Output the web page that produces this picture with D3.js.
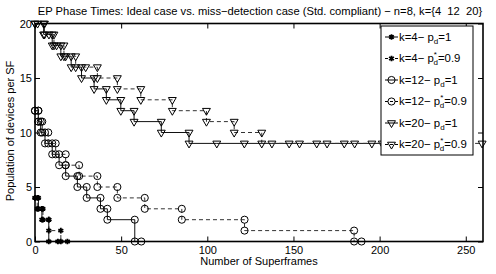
<!DOCTYPE html>
<html>
<head>
<meta charset="utf-8">
<script src="https://cdn.jsdelivr.net/npm/d3@7"></script>
<style>
body { margin: 0; background: #fff; }
text { font-family: "Liberation Sans", Arial, sans-serif; fill: #000; }
</style>
</head>
<body>
<div id="chart"></div>
<script>
(function(){
    // tick values
    var xTicks = [0, 50, 100, 150, 200, 250];
    var yTicks = [0, 5, 10, 15, 20];

    // [superframe, population]
    var k4Ideal = [[0,4],[2,4],[2,3],[4,3],[4,2],[8,2],[8,0],[13.3,0]];
    var k4Miss = [[0,4],[1.3,4],[1.3,3],[4.6,3],[4.6,2],[8,2],[8,1],[15,1],[15,0],[18.8,0]];
    var k12Ideal = [[0,12],[2,12],[2,11],[3.3,11],[3.3,10],[5.8,10],[5.8,9],[10,9],[10,8],[14,8],[14,7],
        [17.8,7],[17.8,6],[24.6,6],[24.6,5],[30,5],[30,4],[38,4],[38,3],[42,3],[42,2],[57.9,2],[57.9,0],[61.7,0]];
    var k12Miss = [[0,12],[1.9,12],[1.9,11],[4.2,11],[4.2,10],[7.7,10],[7.7,9],[12,9],[12,8],[17.8,8],[17.8,7],
        [25.6,7],[25.6,6],[36.2,6],[36.2,5],[47.8,5],[47.8,4],[63.7,4],[63.7,3],[85.2,3],[85.2,2],[121.6,2],
        [121.6,1],[185.2,1],[185.2,0],[189.5,0]];
    var k20Ideal = [[0,20],[5,20],[5,19],[10,19],[10,18],[15,18],[15,17],[21,17],[21,16],[27,16],[27,15],
        [34.3,15],[34.3,14],[41.4,14],[41.4,13],[49.8,13],[49.8,12],[57.5,12],[57.5,11],[73.3,11],[73.3,10],
        [89.4,10],[89.4,9],[105.5,9],[121.5,9],[137.5,9],[153.5,9],[169.5,9],[185.5,9],[201.5,9],[217.5,9],
        [233.5,9],[249.5,9]];
    var k20Miss = [[0,20],[1.5,20],[5.5,20],[5.5,19],[8.1,19],[11,19],[11,18],[12.5,18],[16.8,18],[16.8,17],
        [17.8,17],[23.6,17],[23.6,16],[29.4,16],[36.2,16],[36.2,15],[47.8,15],[47.8,14],[61.4,14],[61.4,13],
        [79.7,13],[79.7,12],[99.5,12],[99.5,11],[115.6,11],[115.6,10],[131.6,10],[131.6,9],[147.5,9],[163.5,9],
        [179.5,9],[195.5,9],[211.5,9],[227.5,9],[243.5,9],[259.5,9]];

    var legendK = ["4", "4", "12", "12", "20", "20"];
    var legendPd = ["1", "0.9", "1", "0.9", "1", "0.9"];

    var series = [
        {data: k4Ideal, dashed: false, marker: "star"},
        {data: k4Miss, dashed: true, marker: "star"},
        {data: k12Ideal, dashed: false, marker: "circle"},
        {data: k12Miss, dashed: true, marker: "circle"},
        {data: k20Ideal, dashed: false, marker: "tri"},
        {data: k20Miss, dashed: true, marker: "tri"}
    ];

    var margin = {top: 23.5, right: 13, bottom: 32.5, left: 35};
    var width = 496 - margin.left - margin.right;
    var height = 274 - margin.top - margin.bottom;

    var x = d3.scaleLinear().domain([0, 260]).range([0, width]);
    var y = d3.scaleLinear().domain([0, 20]).range([height, 0]);

    var svg = d3.select("#chart").append("svg")
        .attr("width", 496)
        .attr("height", 274);

    svg.append("text")
        .attr("x", 260).attr("y", 15)
        .attr("text-anchor", "middle")
        .attr("xml:space", "preserve")
        .style("font-size", "11.2px")
        .text("EP Phase Times: Ideal case vs. miss\u2212detection case (Std. compliant) \u2212 n=8, k={4  12  20}");

    var g = svg.append("g")
        .attr("transform", "translate(" + margin.left + "," + margin.top + ")");

    function markerPath(type) {
        if (type == "circle") return d3.symbol().type(d3.symbolCircle).size(40)();
        if (type == "tri") return d3.symbol().type(d3.symbolTriangle).size(27)();
        return d3.symbol().type(d3.symbolAsterisk).size(22)();
    }

    var line = d3.line()
        .x(function(d){ return x(d[0]); })
        .y(function(d){ return y(d[1]); })
        .curve(d3.curveStepAfter);

    series.forEach(function(s){
        g.append("path")
            .datum(s.data)
            .attr("d", line)
            .attr("fill", "none")
            .attr("stroke", s.dashed ? "#333" : "#111")
            .attr("stroke-width", 1)
            .attr("stroke-dasharray", s.dashed ? "4,3" : null);

        g.selectAll(null)
            .data(s.data)
            .enter()
            .append("path")
            .attr("d", markerPath(s.marker))
            .attr("transform", function(d){
                return "translate(" + x(d[0]) + "," + y(d[1]) + ")" + (s.marker == "tri" ? " rotate(180)" : "");
            })
            .attr("fill", s.marker == "star" ? "#000" : "none")
            .attr("stroke", "#000")
            .attr("stroke-width", s.marker == "star" ? 1.8 : 1);
    });

    // axes, ticks inside on all four sides
    var xb = g.append("g")
        .attr("transform", "translate(0," + height + ")")
        .call(d3.axisBottom(x).tickValues(xTicks).tickSize(-5).tickSizeOuter(0).tickPadding(5));
    var yl = g.append("g")
        .call(d3.axisLeft(y).tickValues(yTicks).tickSize(-5).tickSizeOuter(0).tickPadding(3));
    var xt = g.append("g")
        .call(d3.axisTop(x).tickValues(xTicks).tickSize(-5).tickSizeOuter(0).tickFormat(""));
    var yr = g.append("g")
        .attr("transform", "translate(" + width + ",0)")
        .call(d3.axisRight(y).tickValues(yTicks).tickSize(-5).tickSizeOuter(0).tickFormat(""));

    [xb, yl, xt, yr].forEach(function(a){
        a.select(".domain").remove();
        a.selectAll("line").attr("stroke", "#000");
        a.selectAll("text").style("font-size", "11px").style("font-family", "Liberation Sans, Arial, sans-serif");
    });

    g.append("rect")
        .attr("width", width).attr("height", height)
        .attr("fill", "none")
        .attr("stroke", "#000")
        .attr("stroke-width", 1.6);

    svg.append("text")
        .attr("x", 259).attr("y", 265)
        .attr("text-anchor", "middle")
        .style("font-size", "11px")
        .text("Number of Superframes");

    svg.append("text")
        .attr("transform", "translate(14,131) rotate(-90)")
        .attr("text-anchor", "middle")
        .style("font-size", "11px")
        .text("Population of devices per SF");

    // legend
    var lg = svg.append("g").attr("transform", "translate(381,26)");
    lg.append("rect")
        .attr("width", 92).attr("height", 129)
        .attr("fill", "#fff")
        .attr("stroke", "#000")
        .attr("stroke-width", 1);

    series.forEach(function(s, i){
        var cy = 11 + i * 21.5;
        lg.append("line")
            .attr("x1", 4).attr("x2", 17)
            .attr("y1", cy).attr("y2", cy)
            .attr("stroke", "#000")
            .attr("stroke-dasharray", s.dashed ? "3,2" : null);
        lg.append("path")
            .attr("d", markerPath(s.marker))
            .attr("transform", "translate(10.5," + cy + ")" + (s.marker == "tri" ? " rotate(180)" : ""))
            .attr("fill", s.marker == "star" ? "#000" : "none")
            .attr("stroke", "#000")
            .attr("stroke-width", s.marker == "star" ? 1.8 : 1);

        var t = lg.append("text")
            .attr("x", 18).attr("y", cy + 3.5)
            .style("font-size", "11.4px");
        t.append("tspan").text("k=" + legendK[i] + "\u2212 p");
        if (legendPd[i] != "1") {
            t.append("tspan").attr("dy", -5).style("font-size", "8px").text("*");
            t.append("tspan").attr("dx", -3.5).attr("dy", 8).style("font-size", "8px").text("d");
        } else {
            t.append("tspan").attr("dy", 3).style("font-size", "8px").text("d");
        }
        t.append("tspan").attr("dy", -3).text("=" + legendPd[i]);
    });
})();
</script>
</body>
</html>
